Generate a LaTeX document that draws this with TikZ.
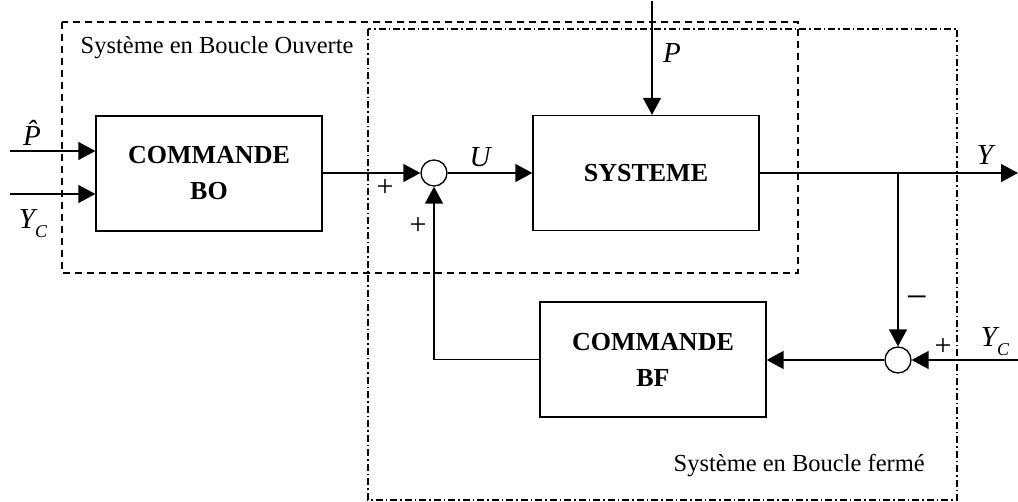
\documentclass[tikz,border=0pt]{standalone}
\usepackage{fontspec}
\setmainfont{Liberation Serif}
\usetikzlibrary{arrows.meta}
\begin{document}
\begin{tikzpicture}[x=1pt,y=-1pt,line width=1.4pt,
  blk/.style={draw,line width=1.3pt,minimum width=226pt,minimum height=115pt,inner sep=0pt,align=center,
    font=\fontsize{26}{36}\selectfont\bfseries},
  sumc/.style={draw,circle,minimum size=26pt,inner sep=0pt,line width=1.3pt},
  ar/.style={-{Triangle[length=17pt,width=18pt]}},
  lab/.style={font=\fontsize{29}{30}\selectfont\itshape,inner sep=0pt},
  sgn/.style={font=\fontsize{30}{30}\selectfont,inner sep=0pt},
  ttl/.style={font=\fontsize{24.5}{26}\selectfont,inner sep=0pt,anchor=base west},
  dsh/.style={line width=1.3pt,dash pattern=on 7pt off 5pt},
  dshd/.style={line width=1.3pt,dash pattern=on 7pt off 3pt on 1.5pt off 3pt}]
\useasboundingbox (0,0) rectangle (1018,502);
% group frames
\draw[dsh] (62,22) rectangle (798,273);
\draw[dshd] (368,29) rectangle (957,500);
\node[ttl] (tbo) at (80,54) {Système en Boucle Ouverte};
\node[ttl] (tbf) at (673,472) {Système en Boucle fermé};
% blocks
\node[blk] (bo) at (209,173.5) {COMMANDE\\BO};
\node[blk] (sys) at (646,173) {SYSTEME};
\node[blk] (bf) at (653,359.5) {COMMANDE\\BF};
\node[sumc] (s1) at (434,173) {};
\node[sumc] (s2) at (898,360) {};
% free ends
\coordinate (inP) at (10,151);
\coordinate (inY) at (10,194);
\coordinate (inPert) at (652,1);
\coordinate (outY) at (1018,173);
\coordinate (br) at (898,173);
\coordinate (inYc) at (1018,360);
\coordinate (fbc) at (434,359.5);
% connectors
\draw[ar] (inP) -- (inP -| bo.west);
\draw[ar] (inY) -- (inY -| bo.west);
\draw[ar] (bo.east |- s1) -- (s1.west);
\draw[ar] (s1.east) -- (sys.west |- s1);
\draw[ar] (inPert) -- (inPert |- sys.north);
\draw[ar] (sys.east |- outY) -- (outY);
\draw[ar] (br) -- (s2.north);
\draw[ar] (inYc) -- (s2.east);
\draw[ar] (s2.west) -- (bf.east |- s2);
\draw[ar] (bf.west) -- (fbc) -- (s1.south);
% labels
\node[lab] (lP) at (672,53) {P};
\node[lab] (lU) at (480,157) {U};
\node[lab] (lY) at (985,155) {Y};
\node[lab] (lPh) at (32,133) {\^{P}};
\node[lab,anchor=base] (lYc1) at (33,229) {Y\raisebox{-0.28em}{\fontsize{18}{18}\selectfont C}};
\node[lab,anchor=base] (lYc2) at (995,347) {Y\raisebox{-0.28em}{\fontsize{18}{18}\selectfont C}};
\node[sgn] (p1) at (385,188) {+};
\node[sgn] (p2) at (418,226) {+};
\node[sgn] (p3) at (943,347) {+};
\node[font=\fontsize{38}{38}\selectfont,inner sep=0pt] (m1) at (917,303) {−};
\end{tikzpicture}
\end{document}
